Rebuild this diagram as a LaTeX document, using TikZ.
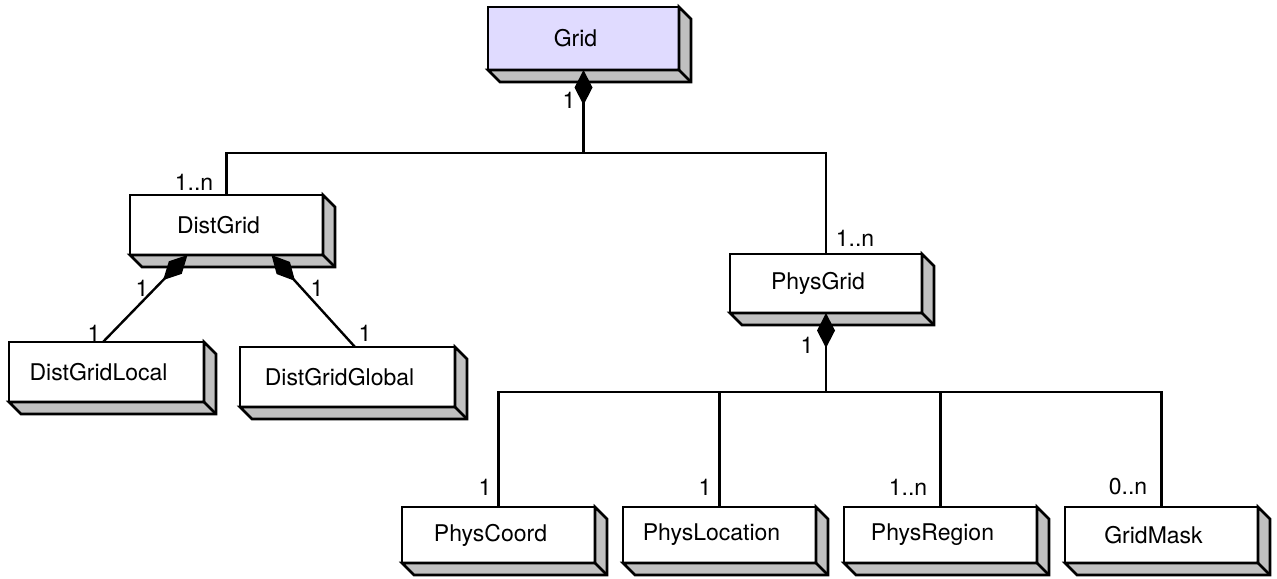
\documentclass[tikz,border=0pt]{standalone}
\usepackage{fontspec}
\setmainfont{TeX Gyre Heros}
\usetikzlibrary{arrows.meta,chains,positioning}
\definecolor{gridblue}{RGB}{224,219,255}
\definecolor{sidegray}{RGB}{192,192,192}

\begin{document}
\begin{tikzpicture}[x=0.5pt, y=-0.5pt,
    class/.style={rectangle, draw, line width=1.3pt, fill=white, outer sep=0pt,
      minimum width=96.5pt, minimum height=30pt, font=\fontsize{11.5}{14}\selectfont,
      execute at end node={\hspace*{8pt}}},
    leaf/.style={class, minimum height=28pt, on chain},
    side/.style={draw, line width=1.3pt, fill=sidegray},
    mult/.style={inner sep=0pt, font=\fontsize{11.5}{13}\selectfont},
    link/.style={line width=1.2pt},
    comp/.style={link, {Diamond[length=17.5pt,width=9pt]}-}]
  \useasboundingbox (0,0) rectangle (1277,578);

  \node[class, fill=gridblue, minimum width=95.5pt, minimum height=31.5pt] (grid) at (583.5,38.5) {Grid};
  \node[class] (distgrid) at (226.5,225) {DistGrid};
  \node[class, minimum width=96pt, minimum height=29.5pt] (physgrid) at (826,283.5) {PhysGrid};
  \node[class, minimum width=97.5pt] (distgridlocal) at (106.5,372) {DistGridLocal};
  \node[class, minimum width=107.5pt] (distgridglobal) at (347.5,377) {DistGridGlobal};

  % parts of PhysGrid
  \begin{scope}[start chain=going right, node distance=14pt]
    \node[leaf] (physcoord) at (498.5,535) {PhysCoord};
    \node[leaf] (physlocation) {PhysLocation};
    \node[leaf] (physregion) {PhysRegion};
    \node[leaf] (gridmask) {GridMask};
  \end{scope}

  % grey right and bottom faces
  \foreach \n in {grid,distgrid,physgrid,distgridlocal,distgridglobal,
                  physcoord,physlocation,physregion,gridmask} {
    \draw[side] (\n.north east) -- ++(6pt,-6pt) -- ([shift={(6pt,-6pt)}]\n.south east)
      -- ([shift={(6pt,-6pt)}]\n.south west) -- (\n.south west) -- (\n.south east) -- cycle;
    \draw[side] (\n.south east) -- ++(6pt,-6pt);
  }

  \coordinate (gridbus) at ([yshift=-41.5pt]grid.south);
  \coordinate (physbus) at ([yshift=-39.5pt]physgrid.south);

  \draw[comp] (grid.south) -- (gridbus);
  \draw[link] (distgrid.north) |- (gridbus) -| (physgrid.north);
  \draw[comp] ([xshift=-19.5pt]distgrid.south) -- ([xshift=-1.75pt]distgridlocal.north);
  \draw[comp] ([xshift=22.5pt]distgrid.south) -- ([xshift=3.75pt]distgridglobal.north);
  \draw[comp] (physgrid.south) -- (physbus);
  \draw[link] (physcoord.north) |- (physbus) -| (gridmask.north);
  \draw[link] (physlocation.north) -- (physlocation.north |- physbus);
  \draw[link] (physregion.north) -- (physregion.north |- physbus);

  % multiplicities
  \node[mult] (m-grid) at (569,100) {1};
  \node[mult] (m-dist) at (194,182) {1..n};
  \node[mult] (m-phys) at (855,238) {1..n};
  \node[mult] (m-localown) at (142,288) {1};
  \node[mult] (m-local) at (94,333) {1};
  \node[mult] (m-globalown) at (317,288) {1};
  \node[mult] (m-global) at (365,333) {1};
  \node[mult] (m-physown) at (807,345) {1};
  \node[mult] (m-coord) at (485,487) {1};
  \node[mult] (m-location) at (705,487) {1};
  \node[mult] (m-region) at (908,487) {1..n};
  \node[mult] (m-mask) at (1128,487) {0..n};
\end{tikzpicture}
\end{document}
